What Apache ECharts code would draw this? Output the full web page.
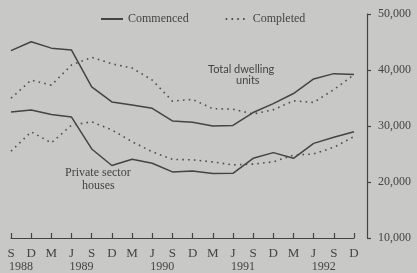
<!DOCTYPE html>
<html>
<head>
<meta charset="utf-8">
<script src="https://cdn.jsdelivr.net/npm/echarts@6/dist/echarts.min.js"></script>
<style>
    html, body { margin: 0; padding: 0; background: #c8c8c6; }
    #chart { width: 417px; height: 273px; }
</style>
</head>
<body>
<div id="chart"></div>
<script>
// Quarters, Sep 1988 to Dec 1992
const months = ['S', 'D', 'M', 'J', 'S', 'D', 'M', 'J', 'S', 'D', 'M', 'J', 'S', 'D', 'M', 'J', 'S', 'D'];
// year labels sit between two quarter ticks
const yearLabels = { 0.5: '1988', 3.5: '1989', 7.5: '1990', 11.5: '1991', 15.5: '1992' };

const totalCommenced = [43450, 45050, 43900, 43550, 37000, 34300, 33750, 33150, 30900, 30650, 30000, 30100, 32400, 34000, 35800, 38400, 39350, 39200];
const totalCompleted = [34950, 38200, 37300, 40900, 42250, 41100, 40350, 38200, 34450, 34750, 33100, 33000, 32150, 32900, 34500, 34200, 36500, 39150];
const privateCommenced = [32500, 32850, 32050, 31600, 25900, 22950, 24050, 23350, 21800, 21950, 21500, 21550, 24230, 25250, 24230, 26900, 28000, 28980];
const privateCompleted = [25500, 28950, 27000, 30150, 30750, 29300, 27200, 25400, 24050, 23950, 23600, 23050, 23200, 23600, 24800, 25000, 26200, 28100];

const yTicks = [10000, 20000, 30000, 40000, 50000];

document.addEventListener('DOMContentLoaded', function () {
    const chart = echarts.init(document.getElementById('chart'));
    const ink = '#444';
    const serif = '"Liberation Serif", "DejaVu Serif", serif';

    const solid = { color: ink, width: 1.5, type: 'solid' };
    const dotted = { color: '#4e4e4e', width: 1.6, type: [1.6, 4.2] };

    function line(name, data, style) {
        return {
            name: name,
            type: 'line',
            data: data,
            symbol: 'none',
            lineStyle: style,
            itemStyle: { color: style.color },
            xAxisIndex: 0,
            silent: true
        };
    }

    function note(text, left, top, font) {
        return {
            type: 'text',
            left: left,
            top: top,
            style: { text: text, font: font, fill: ink }
        };
    }

    const sansNote = '11px Lato, "Liberation Sans", sans-serif';
    const serifNote = '12px "Liberation Serif", serif';

    const option = {
        animation: false,
        backgroundColor: '#c8c8c6',
        textStyle: { fontFamily: serif, color: ink },
        grid: { left: 11, right: 63, top: 14, bottom: 34 },
        legend: {
            left: 100,
            top: 13,
            padding: 0,
            itemWidth: 22,
            itemHeight: 10,
            itemGap: 36,
            data: ['Commenced', 'Completed'],
            selectedMode: false,
            itemStyle: { opacity: 0, borderWidth: 0 },
            textStyle: { fontFamily: serif, fontSize: 12, color: ink }
        },
        xAxis: [
            {
                type: 'category',
                data: months,
                boundaryGap: false,
                axisLine: { lineStyle: { color: ink, width: 1.2 } },
                axisTick: { inside: true, length: 5, lineStyle: { color: ink, width: 1.2 } },
                axisLabel: { fontFamily: serif, fontSize: 13, color: ink, margin: 9, interval: 0 },
                splitLine: { show: false }
            },
            {
                type: 'value',
                position: 'bottom',
                min: 0,
                max: months.length - 1,
                interval: 0.5,
                axisLine: { show: false },
                axisTick: { show: false },
                splitLine: { show: false },
                axisLabel: {
                    fontFamily: serif,
                    fontSize: 12,
                    color: ink,
                    margin: 23,
                    formatter: function (v) {
                        for (const k in yearLabels) {
                            if (Math.abs(v - Number(k)) < 1e-6) return yearLabels[k];
                        }
                        return '';
                    }
                }
            }
        ],
        yAxis: {
            type: 'value',
            position: 'right',
            offset: 13,
            min: yTicks[0],
            max: yTicks[yTicks.length - 1],
            interval: 10000,
            axisLine: { show: true, onZero: false, lineStyle: { color: ink, width: 1.2 } },
            axisTick: { show: true, length: 4, lineStyle: { color: ink, width: 1.2 } },
            splitLine: { show: false },
            axisLabel: {
                fontFamily: serif,
                fontSize: 12,
                color: ink,
                margin: 11,
                formatter: function (v) {
                    return v.toString().replace(/\B(?=(\d{3})+(?!\d))/g, ',');
                }
            }
        },
        graphic: [
            note('Total dwelling', 208, 64, sansNote),
            note('units', 236, 75, sansNote),
            note('Private sector', 65, 167, serifNote),
            note('houses', 82, 180, serifNote)
        ],
        series: [
            line('Commenced', totalCommenced, solid),
            line('Completed', totalCompleted, dotted),
            line('Commenced', privateCommenced, solid),
            line('Completed', privateCompleted, dotted)
        ]
    };

    chart.setOption(option);
});
</script>
</body>
</html>
